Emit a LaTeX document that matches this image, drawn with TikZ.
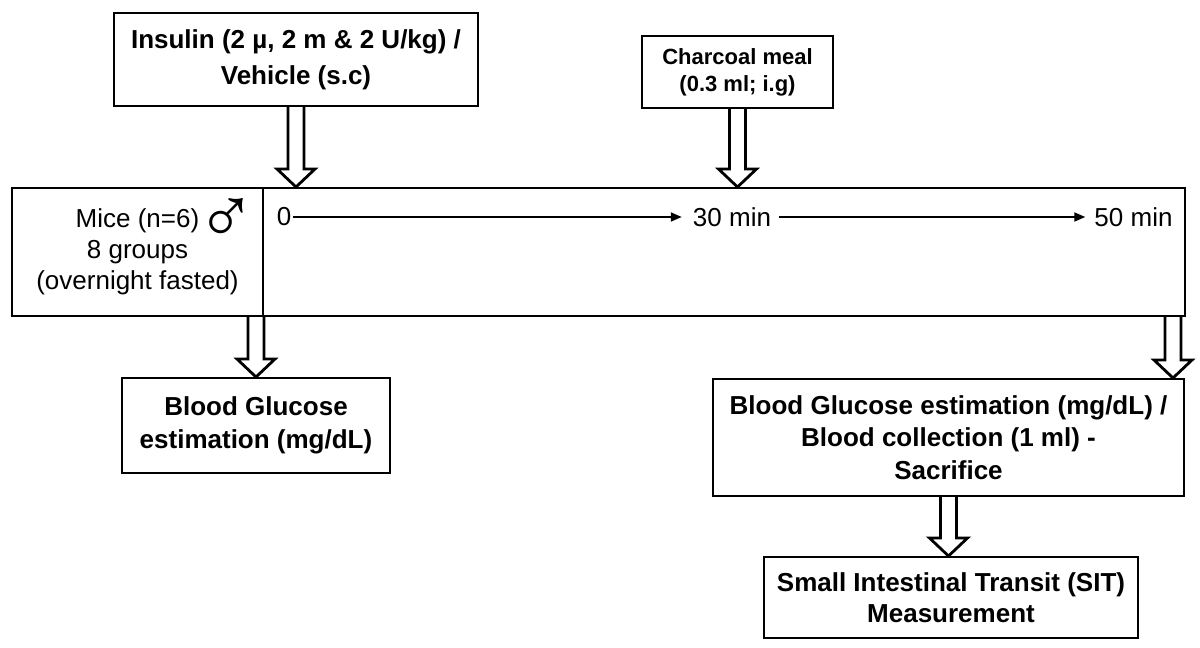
\documentclass[tikz,border=0pt]{standalone}
\usepackage{fontspec}
\setmainfont{Liberation Sans}
\usetikzlibrary{calc,arrows.meta}

\tikzstyle{stepbox} = [rectangle, draw=black, line width=2pt, align=center, inner sep=0pt, font=\fontsize{26}{33}\selectfont\bfseries]
\tikzstyle{tick} = [inner sep=2pt, font=\fontsize{26}{31}\selectfont]
\tikzstyle{timeline} = [line width=1.8pt, -{Triangle[length=11pt,width=9pt]}]
\tikzstyle{hollow} = [line width=2.8pt, to path={let \p1=(\tikztostart), \p2=(\tikztotarget) in
  (\x1-8pt,\y1) -- (\x1-8pt,\y2+18pt) -- (\x1-19pt,\y2+18pt) -- (\x1,\y2)
  -- (\x1+19pt,\y2+18pt) -- (\x1+8pt,\y2+18pt) -- (\x1+8pt,\y1)}]

\begin{document}
\begin{tikzpicture}[x=1pt, y=-1pt]
\useasboundingbox (0,0) rectangle (1200,648);

\node (insulin) [stepbox, minimum width=364pt, minimum height=93pt, font=\fontsize{26}{36}\selectfont\bfseries] at (296,59.5) {Insulin (2 µ, 2 m \& 2 U/kg) /\\Vehicle (s.c)};

\node (charcoal) [stepbox, minimum width=191pt, minimum height=72pt, font=\fontsize{22}{27}\selectfont\bfseries] at (737.5,72) {Charcoal meal\\(0.3 ml; i.g)};

\node (mice) [draw, line width=2pt, minimum width=251pt, minimum height=128pt, align=center, font=\fontsize{26}{31}\selectfont] at (137.5,252) {Mice (n=6)\rlap{\hspace{-2.5pt}\smash{\raisebox{-16pt}{\fontsize{80}{80}\selectfont ♂}}}\\8 groups\\(overnight fasted)};

\node (span) [draw, line width=2pt, minimum width=922pt, minimum height=128pt] at (724,252) {};

\node (t0) [tick] at (284,217) {0};
\node (t30) [tick] at (732,217) {30 min};
\node (t50) [tick] at (1133.5,217) {50 min};

\node (glucose) [stepbox, minimum width=268pt, minimum height=95pt] at (256,425.5) {Blood Glucose\\estimation (mg/dL)};

\node (final) [stepbox, minimum width=471pt, minimum height=117pt, font=\fontsize{26}{32.5}\selectfont\bfseries] at (948.5,437.5) {Blood Glucose estimation (mg/dL) /\\Blood collection (1 ml) -\\Sacrifice};

\node (sit) [stepbox, minimum width=374pt, minimum height=81pt, font=\fontsize{26}{31}\selectfont\bfseries] at (951,597.5) {Small Intestinal Transit (SIT)\\Measurement};

\coordinate (drop) at (1173,316);

\draw [timeline, shorten >=9pt] (t0) -- (t30);
\draw [timeline, shorten <=6pt, shorten >=7pt] (t30) -- (t50);

\draw [hollow] (insulin.south) to (insulin.south |- span.north);
\draw [hollow] (charcoal.south) to (charcoal.south |- span.north);
\draw [hollow] (glucose.north |- mice.south) to (glucose.north);
\draw [hollow] (drop) to (drop |- final.north);
\draw [hollow] (final.south) to (sit.north);
\end{tikzpicture}
\end{document}
